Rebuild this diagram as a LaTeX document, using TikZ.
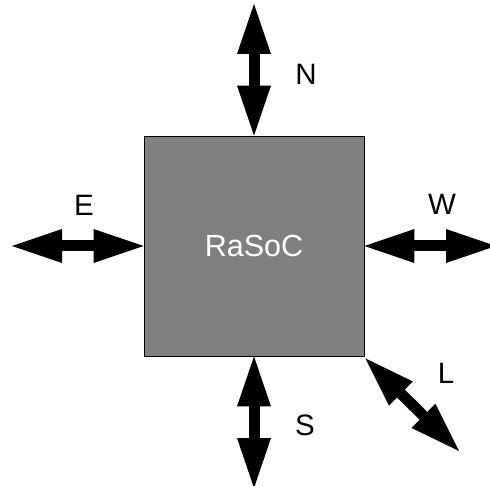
\documentclass[tikz,border=0pt]{standalone}
\usepackage{fontspec}
\setmainfont{Liberation Sans}
\usepackage{tikz}
\usepackage{xcolor}
\usetikzlibrary{arrows.meta, positioning}
\definecolor{routergray}{HTML}{808080}

\begin{document}
\begin{tikzpicture}[
      x=1pt, y=-1pt,
      router/.style={rectangle, draw=black, fill=routergray, line width=0.8pt,
                     minimum width=220pt, minimum height=220pt, inner sep=0pt,
                     text=white, font=\fontsize{30.5}{36}\selectfont},
      port/.style={font=\fontsize{29.5}{34}\selectfont, inner sep=0pt},
      link/.style={{Triangle[length=50pt, width=34pt, line width=0pt]}-{Triangle[length=50pt, width=34pt, line width=0pt]},
                   line width=11pt, black}
    ]
    \clip (0,0) rectangle (490,486);
    \node[router] (rasoc) at (254,246) {RaSoC};

    \coordinate (nEnd) at (254,4);
    \coordinate (sEnd) at (254,488);
    \coordinate (eEnd) at (12,246);
    \coordinate (wEnd) at (496,246);
    \coordinate (lEnd) at (459,451);

    \node[port] (nLabel) at (306,74) {N};
    \node[port] (eLabel) at (84,205) {E};
    \node[port] (wLabel) at (442,204) {W};
    \node[port] (sLabel) at (305,425) {S};
    \node[port] (lLabel) at (446,373) {L};

    \draw[link] (nEnd) -- (rasoc.north);
    \draw[link] (rasoc.south) -- (sEnd);
    \draw[link] (eEnd) -- (rasoc.west);
    \draw[link] (rasoc.east) -- (wEnd);
    \draw[link] ([shift={(1,2)}]rasoc.south east) -- (lEnd);
  \end{tikzpicture}
\end{document}
